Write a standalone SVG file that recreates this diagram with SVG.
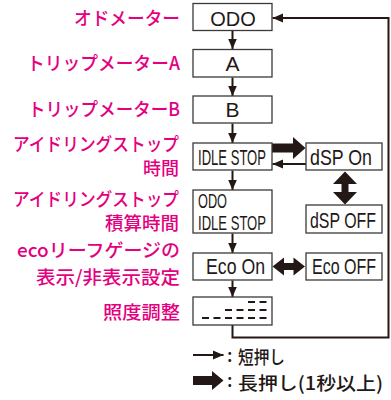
<svg xmlns="http://www.w3.org/2000/svg" width="391" height="400" viewBox="0 0 391 400">
<style>
.box{fill:#fff;stroke:#3a3a3a;stroke-width:1.3}
.bt{font-family:"Liberation Sans",Arial,sans-serif;font-size:22px;fill:#231815}
.lbl{font-family:"Noto Sans CJK JP",sans-serif;font-size:18.5px;font-weight:500;fill:#E4007F;text-anchor:end}
.leg{font-family:"Noto Sans CJK JP",sans-serif;font-size:18.5px;font-weight:500;fill:#231815}
.ln{fill:none;stroke:#231815;stroke-width:2}
.thick{fill:#231815}
.dash{stroke:#231815;stroke-width:2}
</style>
<defs>
<marker id="ah" markerUnits="userSpaceOnUse" markerWidth="11" markerHeight="10" refX="10.5" refY="5" orient="auto">
<path d="M0,0.5 L10.5,5 L0,9.5 z" fill="#231815"/>
</marker>
</defs>
<rect width="391" height="400" fill="#fff"/>

<g id="labels">
<text class="lbl" x="180" y="24.5" textLength="106" lengthAdjust="spacingAndGlyphs">オドメーター</text>
<text class="lbl" x="180" y="70" textLength="153" lengthAdjust="spacingAndGlyphs">トリップメーターA</text>
<text class="lbl" x="180" y="115.5" textLength="152" lengthAdjust="spacingAndGlyphs">トリップメーターB</text>
<text class="lbl" x="179" y="151" textLength="166" lengthAdjust="spacingAndGlyphs">アイドリングストップ</text>
<text class="lbl" x="179" y="174.5" textLength="36" lengthAdjust="spacingAndGlyphs">時間</text>
<text class="lbl" x="179" y="206" textLength="166" lengthAdjust="spacingAndGlyphs">アイドリングストップ</text>
<text class="lbl" x="179" y="229.5" textLength="74" lengthAdjust="spacingAndGlyphs">積算時間</text>
<text class="lbl" x="180" y="257" textLength="163" lengthAdjust="spacingAndGlyphs">ecoリーフゲージの</text>
<text class="lbl" x="180" y="284" textLength="144" lengthAdjust="spacingAndGlyphs">表示/非表示設定</text>
<text class="lbl" x="180" y="318.5" textLength="77" lengthAdjust="spacingAndGlyphs">照度調整</text>
</g>

<g id="connectors">
<line class="ln" x1="232.5" y1="31" x2="232.5" y2="49" marker-end="url(#ah)"/>
<line class="ln" x1="232.5" y1="77.5" x2="232.5" y2="96" marker-end="url(#ah)"/>
<line class="ln" x1="232.5" y1="123.5" x2="232.5" y2="143" marker-end="url(#ah)"/>
<line class="ln" x1="232.5" y1="170.5" x2="232.5" y2="190" marker-end="url(#ah)"/>
<line class="ln" x1="232.5" y1="233.5" x2="232.5" y2="253" marker-end="url(#ah)"/>
<line class="ln" x1="232.5" y1="280.5" x2="232.5" y2="297" marker-end="url(#ah)"/>
<polyline class="ln" points="232.5,325 232.5,337.5 388.5,337.5 388.5,18 272.5,18" marker-end="url(#ah)"/>
<polygon class="thick" points="272,143.5 293,143.5 293,137 305.5,148 293,159 293,152.5 272,152.5"/>
<line class="ln" x1="306" y1="164" x2="272.5" y2="164" marker-end="url(#ah)"/>
<polygon class="thick" points="345,171.5 357,184 348.5,184 348.5,192 357,192 345,204.5 333,192 341.5,192 341.5,184 333,184"/>
<polygon class="thick" points="272.5,266.5 284,257.5 284,263 293.5,263 293.5,257.5 305,266.5 293.5,275.5 293.5,270 284,270 284,275.5"/>
</g>

<g id="n-odo">
<rect class="box" x="193" y="3.5" width="79" height="27"/>
<text class="bt" x="233" y="25.5" text-anchor="middle" style="font-size:20px">ODO</text>
</g>
<g id="n-a">
<rect class="box" x="193" y="49.5" width="79" height="27.5"/>
<text class="bt" x="232.5" y="71" text-anchor="middle" style="font-size:21px">A</text>
</g>
<g id="n-b">
<rect class="box" x="193" y="96" width="79" height="27"/>
<text class="bt" x="232.5" y="117" text-anchor="middle" style="font-size:21px">B</text>
</g>
<g id="n-idle">
<rect class="box" x="193" y="143" width="79" height="27"/>
<text class="bt" x="198" y="164.5" textLength="68" lengthAdjust="spacingAndGlyphs">IDLE STOP</text>
</g>
<g id="n-dspon">
<rect class="box" x="306" y="143" width="76" height="27"/>
<text class="bt" x="310" y="164.5" textLength="62" lengthAdjust="spacingAndGlyphs">dSP On</text>
</g>
<g id="n-dspoff">
<rect class="box" x="306" y="205" width="76" height="28"/>
<text class="bt" x="310" y="228" textLength="66" lengthAdjust="spacingAndGlyphs">dSP OFF</text>
</g>
<g id="n-odoidle">
<rect class="box" x="193" y="190" width="79" height="43"/>
<text class="bt" x="198" y="208" textLength="29" lengthAdjust="spacingAndGlyphs" style="font-size:21px">ODO</text>
<text class="bt" x="198" y="229.5" textLength="68" lengthAdjust="spacingAndGlyphs" style="font-size:21px">IDLE STOP</text>
</g>
<g id="n-ecoon">
<rect class="box" x="193" y="253" width="79" height="27"/>
<text class="bt" x="206" y="274" textLength="59" lengthAdjust="spacingAndGlyphs">Eco On</text>
</g>
<g id="n-ecooff">
<rect class="box" x="306" y="253" width="76" height="27"/>
<text class="bt" x="312" y="274" textLength="64" lengthAdjust="spacingAndGlyphs">Eco OFF</text>
</g>
<g id="n-bright">
<rect class="box" x="193" y="297" width="79" height="28"/>
<g class="dash">
<line x1="248" y1="302" x2="255" y2="302"/><line x1="259.5" y1="302" x2="266.5" y2="302"/>
<line x1="225" y1="310" x2="232" y2="310"/><line x1="236.5" y1="310" x2="243.5" y2="310"/><line x1="248" y1="310" x2="255" y2="310"/><line x1="259.5" y1="310" x2="266.5" y2="310"/>
<line x1="202" y1="318" x2="209" y2="318"/><line x1="213.5" y1="318" x2="220.5" y2="318"/><line x1="225" y1="318" x2="232" y2="318"/><line x1="236.5" y1="318" x2="243.5" y2="318"/><line x1="248" y1="318" x2="255" y2="318"/><line x1="259.5" y1="318" x2="266.5" y2="318"/>
</g>
</g>

<g id="legend">
<line class="ln" x1="193" y1="355" x2="223.5" y2="355" marker-end="url(#ah)"/>
<text class="leg" x="227" y="362">:</text>
<text class="leg" x="238" y="364" textLength="47" lengthAdjust="spacingAndGlyphs">短押し</text>
<polygon class="thick" points="193,376 212,376 212,371 223.5,380.5 212,390 212,385 193,385"/>
<text class="leg" x="227" y="387">:</text>
<text class="leg" x="238" y="390" textLength="145" lengthAdjust="spacingAndGlyphs">長押し(1秒以上)</text>
</g>
</svg>
